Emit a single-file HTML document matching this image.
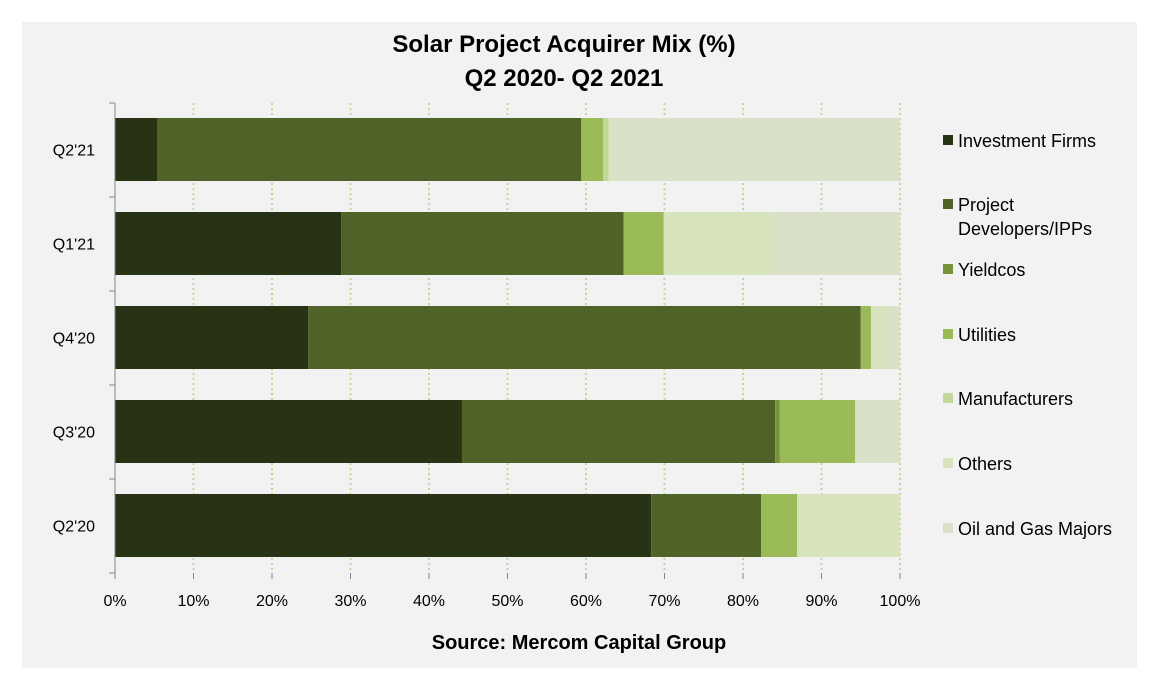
<!DOCTYPE html>
<html><head><meta charset="utf-8"><style>
body{margin:0;background:#fff;font-family:"Liberation Sans",sans-serif;}
#wrap{position:absolute;left:0;top:0;width:1167px;height:693px;background:#fff;}
</style></head><body>
<div id="wrap">
<svg id="chart" width="1167" height="693" font-family="Liberation Sans, sans-serif">
<rect x="22" y="22" width="1115" height="646" fill="#f2f2f2"/>
<text x="564" y="52" text-anchor="middle" font-size="24" font-weight="bold" fill="#000">Solar Project Acquirer Mix (%)</text>
<text x="564" y="86" text-anchor="middle" font-size="24" font-weight="bold" fill="#000">Q2 2020- Q2 2021</text>
<text x="579" y="649" text-anchor="middle" font-size="20" font-weight="bold" fill="#000">Source: Mercom Capital Group</text>
<g id="grid"></g><g id="bars"></g><g id="axes"></g><g id="legend"></g>
</svg>
</div>
<script>
const categories=["Q2'21","Q1'21","Q4'20","Q3'20","Q2'20"];
const seriesNames=["Investment Firms","Project Developers/IPPs","Yieldcos","Utilities","Manufacturers","Others","Oil and Gas Majors"];
const investmentFirms=[5.4,28.8,24.6,44.2,68.3];
const projectDevelopers=[54.0,36.0,70.4,39.9,14.0];
const yieldcos=[0,0,0,0.6,0];
const utilities=[2.8,5.1,1.3,9.6,4.6];
const manufacturers=[0.7,0,0,0,0];
const others=[0.5,13.9,2.2,0,13.1];
const oilGasMajors=[36.6,16.2,1.5,5.7,0];
const xTicks=[0,10,20,30,40,50,60,70,80,90,100];
const series=[investmentFirms,projectDevelopers,yieldcos,utilities,manufacturers,others,oilGasMajors];
const colors=["#283214","#4f6228","#77933c","#9bbb59","#c3d69b","#d7e4bd","#d9e2c8"];
const NS="http://www.w3.org/2000/svg";
const X0=115,X1=900,Y0=103,BAND=94,BARH=63;
const xs=v=>X0+(X1-X0)*v/100;
const yb=i=>Y0+i*BAND+(BAND-BARH)/2-0.5;
function mk(t,a,p){const e=document.createElementNS(NS,t);for(const k in a)e.setAttribute(k,a[k]);p.appendChild(e);return e;}
const grid=document.getElementById('grid'),bars=document.getElementById('bars'),axes=document.getElementById('axes'),legend=document.getElementById('legend');
xTicks.forEach(t=>{if(t===0)return;
const g=mk('line',{x1:xs(t),x2:xs(t),y1:Y0,y2:Y0+BAND*5,stroke:'#c3d69b','stroke-width':2,'stroke-dasharray':'2 3'},grid);

});
categories.forEach((c,i)=>{let acc=0;
series.forEach((s,k)=>{const v=s[i];if(v<=0)return;
const r=mk('rect',{x:xs(acc),y:yb(i),width:xs(acc+v)-xs(acc),height:BARH,fill:colors[k]},bars);


acc+=v;});
const l=mk('text',{x:95,y:yb(i)+BARH/2+6,'text-anchor':'end','font-size':16,fill:'#000'},axes);l.textContent=c;

});
const ax=mk('line',{x1:X0,x2:X0,y1:Y0,y2:Y0+BAND*5,stroke:'#868686','stroke-width':1},axes);


for(let i=0;i<=5;i++){const t=mk('line',{x1:X0-6,x2:X0,y1:Y0+i*BAND,y2:Y0+i*BAND,stroke:'#868686'},axes);

}
xTicks.forEach(t=>{const tk=mk('line',{x1:xs(t),x2:xs(t),y1:Y0+BAND*5,y2:Y0+BAND*5+6,stroke:'#868686'},axes);


const l=mk('text',{x:xs(t),y:606,'text-anchor':'middle','font-size':16,fill:'#000'},axes);l.textContent=t+'%';

});
const legY=[141,205,270,335,399,464,529];
seriesNames.forEach((n,k)=>{const y=legY[k];
const sq=mk('rect',{x:943,y:y-6,width:10,height:10,fill:colors[k]},legend);


const t=mk('text',{x:958,y:y+6,'font-size':18,fill:'#000'},legend);


if(n==="Project Developers/IPPs"){t.textContent="Project";
const t2=mk('text',{x:958,y:y+30,'font-size':18,fill:'#000'},legend);t2.textContent="Developers/IPPs";

}else t.textContent=n;});
</script>
</body></html>
